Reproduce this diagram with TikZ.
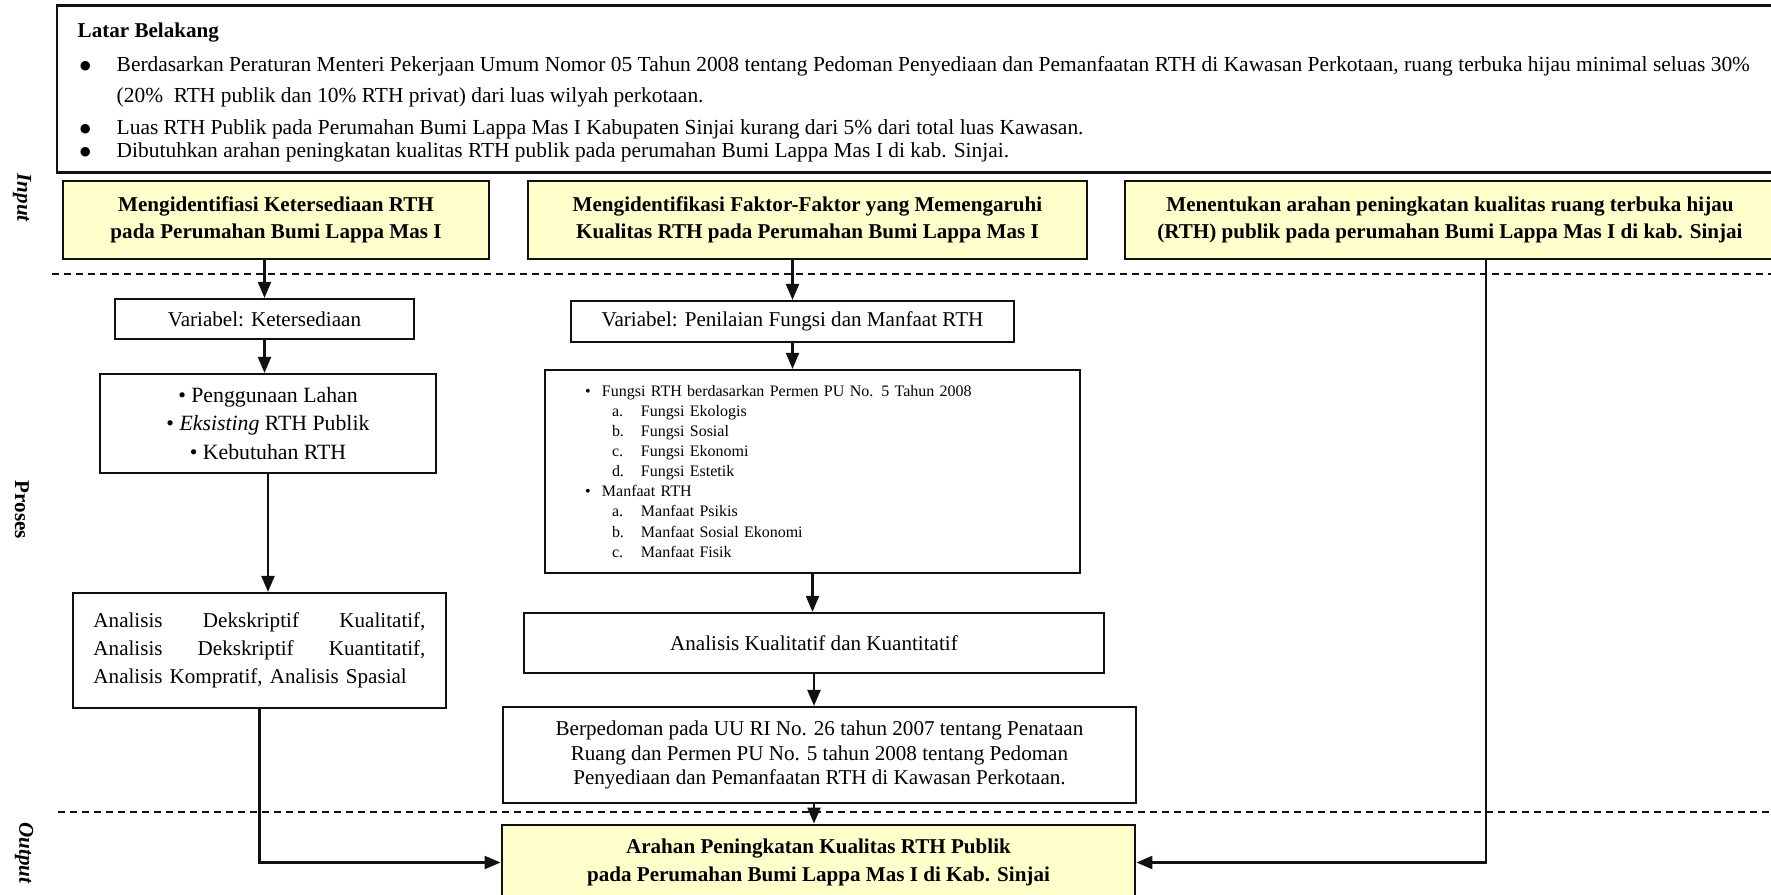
\documentclass[tikz,border=0pt]{standalone}
\usepackage{fontspec}
\setmainfont{Liberation Serif}
\usetikzlibrary{arrows.meta,positioning,calc}
\definecolor{goal}{HTML}{FFFFCC}
\definecolor{ink}{HTML}{111111}
\newcommand{\setfs}[2]{\fontsize{#1}{#2}\selectfont}
\tikzset{
  flow/.style={-{Triangle[length=1.6mm,width=1.3mm]},line width=0.6pt,ink},
  box/.style={draw=ink,line width=0.6pt,inner sep=0pt,align=center,font=\setfs{6}{8}},
  goalbox/.style={box,fill=goal,line width=0.8pt,font=\setfs{6}{7.7}\bfseries},
  phase/.style={rotate=-90,inner sep=0pt,font=\setfs{6}{7}\bfseries},
  divider/.style={dash pattern=on 0.7mm off 0.5mm,line width=0.6pt,ink},
  bgline/.style={anchor=west,inner sep=0pt,font=\setfs{6.1}{7},execute at begin node=\strut}
}

\begin{document}
\begin{tikzpicture}[x=1cm,y=1cm]
\useasboundingbox (0,0) rectangle (17.71,8.95);
% latar belakang
\node[draw=ink,line width=0.85pt,minimum width=17.3cm,minimum height=1.67cm,inner sep=0pt] (latar) at (9.22,8.055) {};
\node[bgline,font=\setfs{6}{7}\bfseries] (judul) at (0.77,8.62) {Latar Belakang};
\node[bgline] (dot1) at (0.78,8.28) {$\bullet$};
\node[bgline] (lb1) at (1.16,8.28) {Berdasarkan Peraturan Menteri Pekerjaan Umum Nomor 05 Tahun 2008 tentang Pedoman Penyediaan dan Pemanfaatan RTH di Kawasan Perkotaan, ruang terbuka hijau minimal seluas 30\%};
\node[bgline] (lb2) at (1.16,7.97) {(20\%\ \ RTH publik dan 10\% RTH privat) dari luas wilyah perkotaan.};
\node[bgline] (dot3) at (0.78,7.65) {$\bullet$};
\node[bgline] (lb3) at (1.16,7.65) {Luas RTH Publik pada Perumahan Bumi Lappa Mas I Kabupaten Sinjai kurang dari 5\% dari total luas Kawasan.};
\node[bgline] (dot4) at (0.78,7.42) {$\bullet$};
\node[bgline] (lb4) at (1.16,7.42) {Dibutuhkan arahan peningkatan kualitas RTH publik pada perumahan Bumi Lappa Mas I di kab. Sinjai.};

% tujuan
\node[goalbox,minimum width=4.26cm,minimum height=0.78cm] (idsedia) at (2.76,6.75)
  {Mengidentifiasi Ketersediaan RTH\\pada Perumahan Bumi Lappa Mas I};
\node[goalbox,minimum width=5.59cm,minimum height=0.78cm] (idfaktor) at (8.075,6.75)
  {Mengidentifikasi Faktor-Faktor yang Memengaruhi\\Kualitas RTH pada Perumahan Bumi Lappa Mas I};
\node[goalbox,minimum width=6.5cm,minimum height=0.78cm] (arahan) at (14.5,6.75)
  {Menentukan arahan peningkatan kualitas ruang terbuka hijau\\(RTH) publik pada perumahan Bumi Lappa Mas I di kab. Sinjai};

\draw[divider] (0.52,6.21) -- (17.71,6.21);
\draw[divider] (0.58,0.83) -- (17.71,0.83);

\node[phase] (lin) at (0.22,6.97) {\textit{Input}};
\node[phase] (lpro) at (0.22,3.85) {Proses};
\node[phase] (lout) at (0.24,0.42) {\textit{Output}};

% proses
\node[box,minimum width=2.99cm,minimum height=0.40cm] (varsedia) at (2.645,5.76) {Variabel: Ketersediaan};
\node[box,minimum width=4.43cm,minimum height=0.41cm] (varnilai) at (7.925,5.735) {Variabel: Penilaian Fungsi dan Manfaat RTH};
\node[box,minimum width=3.36cm,minimum height=0.99cm,font=\setfs{6.2}{8}] (lahan) at (2.68,4.715)
  {\textbullet\ Penggunaan Lahan\\\textbullet\ \textit{Eksisting} RTH Publik\\\textbullet\ Kebutuhan RTH};
\node[box,minimum width=5.35cm,minimum height=2.03cm,text width=4.55cm,align=left,font=\setfs{4.55}{5.7}] (fungsi) at (8.125,4.235)
  {\makebox[0.17cm][l]{\textbullet}Fungsi RTH berdasarkan Permen PU No. 5 Tahun 2008\\
   \hspace*{0.27cm}\makebox[0.29cm][l]{a.}Fungsi Ekologis\\
   \hspace*{0.27cm}\makebox[0.29cm][l]{b.}Fungsi Sosial\\
   \hspace*{0.27cm}\makebox[0.29cm][l]{c.}Fungsi Ekonomi\\
   \hspace*{0.27cm}\makebox[0.29cm][l]{d.}Fungsi Estetik\\
   \makebox[0.17cm][l]{\textbullet}Manfaat RTH\\
   \hspace*{0.27cm}\makebox[0.29cm][l]{a.}Manfaat Psikis\\
   \hspace*{0.27cm}\makebox[0.29cm][l]{b.}Manfaat Sosial Ekonomi\\
   \hspace*{0.27cm}\makebox[0.29cm][l]{c.}Manfaat Fisik};
\node[box,minimum width=3.73cm,minimum height=1.15cm,text width=3.32cm,align=left] (anadesk) at (2.595,2.445)
  {Analisis\hfill Dekskriptif\hfill Kualitatif,\\Analisis\hfill Dekskriptif\hfill Kuantitatif,\\Analisis Kompratif, Analisis Spasial};
\node[box,minimum width=5.80cm,minimum height=0.60cm] (anakual) at (8.14,2.52) {Analisis Kualitatif dan Kuantitatif};
\node[box,minimum width=6.33cm,minimum height=0.96cm,font=\setfs{6}{7.1}] (pedoman) at (8.195,1.40)
  {Berpedoman pada UU RI No. 26 tahun 2007 tentang Penataan\\Ruang dan Permen PU No. 5 tahun 2008 tentang Pedoman\\Penyediaan dan Pemanfaatan RTH di Kawasan Perkotaan.};

% output
\node[goalbox,minimum width=6.33cm,minimum height=0.75cm,font=\setfs{6}{8}\bfseries] (hasil) at (8.185,0.325)
  {Arahan Peningkatan Kualitas RTH Publik\\pada Perumahan Bumi Lappa Mas I di Kab. Sinjai};

\draw[flow] (idsedia.south -| varsedia) -- (varsedia);
\draw[flow] (idfaktor.south -| varnilai) -- (varnilai);
\draw[flow] (varsedia.south) -- (varsedia.south |- lahan.north);
\draw[flow] (lahan.south) -- (lahan.south |- anadesk.north);
\draw[flow] (varnilai.south) -- (varnilai.south |- fungsi.north);
\draw[flow] (fungsi.south) -- (fungsi.south |- anakual.north);
\draw[flow] (anakual.south) -- (anakual.south |- pedoman.north);
\draw[flow] (anakual.south |- pedoman.south) -- (anakual.south |- hasil.north);
\draw[flow] (anadesk.south) |- (hasil.west);
\draw[flow] ([xshift=3.6mm]arahan.south) |- (hasil.east);
\end{tikzpicture}
\end{document}
